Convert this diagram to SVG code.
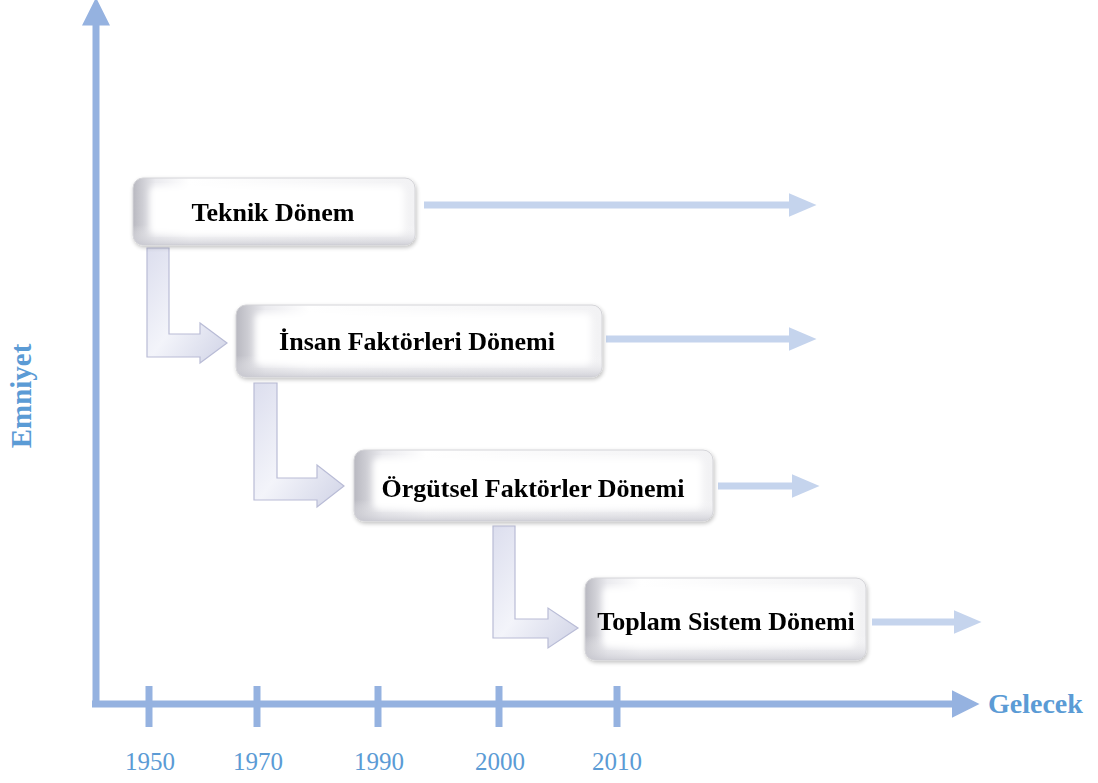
<svg xmlns="http://www.w3.org/2000/svg" width="1098" height="783" viewBox="0 0 1098 783">
  <defs>
    <style>
      .axis { stroke: #95b2e0; stroke-width: 7; fill: none; }
      .tick { stroke: #95b2e0; stroke-width: 7; }
      .year { font-family: "Liberation Serif", serif; font-size: 25px; fill: #5b9bd5; text-anchor: middle; }
      .axislabel { font-family: "Liberation Serif", serif; font-size: 28px; font-weight: bold; fill: #5b9bd5; }
      .lbl { font-family: "Liberation Serif", serif; font-size: 26px; font-weight: bold; fill: #000; text-anchor: middle; }
      .flow { stroke: #c5d4ed; stroke-width: 7; fill: none; }
      .bent { fill: url(#bentFill); stroke: #b9bcd6; stroke-width: 1.2; }
    </style>
    <marker id="axisHead" markerWidth="4" markerHeight="4" refX="0.5" refY="2" orient="auto" markerUnits="strokeWidth" viewBox="0 0 4 4">
      <path d="M0,0 L4,2 L0,4 Z" fill="#95b2e0"/>
    </marker>
    <marker id="flowHead" markerWidth="4" markerHeight="3.4" refX="0.5" refY="1.7" orient="auto" markerUnits="strokeWidth" viewBox="0 0 4 3.4">
      <path d="M0,0 L4,1.7 L0,3.4 Z" fill="#c5d4ed"/>
    </marker>
    <linearGradient id="boxEdge" x1="0" y1="0" x2="1" y2="0">
      <stop offset="0" stop-color="#b8b8c0"/>
      <stop offset="0.08" stop-color="#ebebef"/>
      <stop offset="0.2" stop-color="#ffffff"/>
      <stop offset="1" stop-color="#f2f2f4"/>
    </linearGradient>
    <linearGradient id="boxShade" x1="0" y1="0" x2="0" y2="1">
      <stop offset="0" stop-color="#ffffff" stop-opacity="0"/>
      <stop offset="0.7" stop-color="#ffffff" stop-opacity="0"/>
      <stop offset="1" stop-color="#c8c8d0" stop-opacity="0.8"/>
    </linearGradient>
    <linearGradient id="bentFill" x1="0" y1="0" x2="1" y2="1">
      <stop offset="0" stop-color="#dcdeee"/>
      <stop offset="0.5" stop-color="#f3f4fa"/>
      <stop offset="1" stop-color="#d0d3e6"/>
    </linearGradient>
    <filter id="soft" x="-5%" y="-5%" width="110%" height="110%">
      <feGaussianBlur stdDeviation="3"/>
    </filter>
    <filter id="drop" x="-5%" y="-10%" width="110%" height="125%">
      <feGaussianBlur in="SourceAlpha" stdDeviation="2"/>
      <feOffset dx="1" dy="2" result="b"/>
      <feComponentTransfer><feFuncA type="linear" slope="0.25"/></feComponentTransfer>
      <feMerge><feMergeNode/><feMergeNode in="SourceGraphic"/></feMerge>
    </filter>
  </defs>

  <!-- axes -->
  <g id="axes">
    <path class="axis" d="M96,705 L96,22" marker-end="url(#axisHead)"/>
    <path class="axis" d="M92,704 L955,704" marker-end="url(#axisHead)"/>
    <line class="tick" x1="149" y1="686" x2="149" y2="727"/>
    <line class="tick" x1="257" y1="686" x2="257" y2="727"/>
    <line class="tick" x1="378" y1="686" x2="378" y2="727"/>
    <line class="tick" x1="499" y1="686" x2="499" y2="727"/>
    <line class="tick" x1="617" y1="686" x2="617" y2="727"/>
    <text class="year" x="150" y="770">1950</text>
    <text class="year" x="258" y="770">1970</text>
    <text class="year" x="379" y="770">1990</text>
    <text class="year" x="500" y="770">2000</text>
    <text class="year" x="617" y="770">2010</text>
    <text class="axislabel" x="988" y="713">Gelecek</text>
    <text class="axislabel" transform="translate(31,396) rotate(-90)" text-anchor="middle" style="font-size:29px">Emniyet</text>
  </g>

  <!-- connectors -->
  <g id="connectors">
    <path class="flow" d="M424,205 L792,205" marker-end="url(#flowHead)"/>
    <path class="flow" d="M606,339 L792,339" marker-end="url(#flowHead)"/>
    <path class="flow" d="M718,486 L795,486" marker-end="url(#flowHead)"/>
    <path class="flow" d="M872,622 L957,622" marker-end="url(#flowHead)"/>
    <path class="bent" d="M147,248 L169,248 L169,334 L200,334 L200,323 L227,343 L200,363 L200,357 L147,357 Z"/>
    <path class="bent" d="M254,383 L277,383 L277,478 L317,478 L317,465 L344,486 L317,507 L317,500 L254,500 Z"/>
    <path class="bent" d="M493,526 L515,526 L515,619 L548,619 L548,608 L578,628 L548,648 L548,638 L493,638 Z"/>
  </g>

  <!-- stages -->
  <g id="stage-teknik" filter="url(#drop)">
    <rect x="133" y="178" width="282" height="67" rx="10" fill="url(#boxEdge)" stroke="#d4d4d8"/>
    <rect x="133" y="178" width="282" height="67" rx="10" fill="url(#boxShade)"/>
    <rect x="150" y="186" width="254" height="48" rx="6" fill="#ffffff" filter="url(#soft)"/>
    <text class="lbl" x="273" y="221">Teknik Dönem</text>
  </g>
  <g id="stage-insan" filter="url(#drop)">
    <rect x="236" y="305" width="366" height="72" rx="10" fill="url(#boxEdge)" stroke="#d4d4d8"/>
    <rect x="236" y="305" width="366" height="72" rx="10" fill="url(#boxShade)"/>
    <rect x="255" y="313" width="336" height="52" rx="6" fill="#ffffff" filter="url(#soft)"/>
    <text class="lbl" x="417" y="350">İnsan Faktörleri Dönemi</text>
  </g>
  <g id="stage-orgutsel" filter="url(#drop)">
    <rect x="354" y="450" width="359" height="71" rx="10" fill="url(#boxEdge)" stroke="#d4d4d8"/>
    <rect x="354" y="450" width="359" height="71" rx="10" fill="url(#boxShade)"/>
    <rect x="373" y="458" width="329" height="51" rx="6" fill="#ffffff" filter="url(#soft)"/>
    <text class="lbl" x="533" y="497">Örgütsel Faktörler Dönemi</text>
  </g>
  <g id="stage-toplam" filter="url(#drop)">
    <rect x="585" y="578" width="281" height="82" rx="10" fill="url(#boxEdge)" stroke="#d4d4d8"/>
    <rect x="585" y="578" width="281" height="82" rx="10" fill="url(#boxShade)"/>
    <rect x="603" y="587" width="252" height="60" rx="6" fill="#ffffff" filter="url(#soft)"/>
    <text class="lbl" x="726" y="630">Toplam Sistem Dönemi</text>
  </g>
</svg>
